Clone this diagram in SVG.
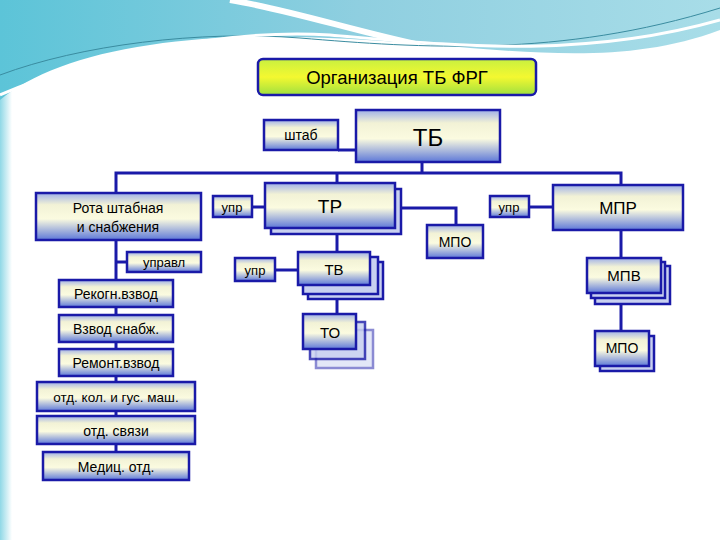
<svg xmlns="http://www.w3.org/2000/svg" width="720" height="540" viewBox="0 0 720 540">
<defs>
<linearGradient id="bx" x1="0" y1="0" x2="0" y2="1">
<stop offset="0" stop-color="#9fb0e8"/><stop offset="0.25" stop-color="#f2f2d6"/><stop offset="0.55" stop-color="#fbfbe0"/><stop offset="1" stop-color="#5d78d8"/>
</linearGradient>
<linearGradient id="tt" x1="0" y1="0" x2="0" y2="1">
<stop offset="0" stop-color="#c8f040"/><stop offset="0.5" stop-color="#f4f830"/><stop offset="1" stop-color="#9fe040"/>
</linearGradient>
<linearGradient id="sky" x1="0" y1="0" x2="1" y2="0">
<stop offset="0" stop-color="#5cc4d8"/><stop offset="0.5" stop-color="#8fcfe0"/><stop offset="1" stop-color="#a8dde8"/>
</linearGradient>
<linearGradient id="lft" x1="0" y1="0" x2="1" y2="0">
<stop offset="0" stop-color="#8fd8e6"/><stop offset="1" stop-color="#ffffff"/>
</linearGradient>
</defs>
<style>
.b{fill:url(#bx);stroke:#1a1aa8;stroke-width:2.5}
.s{fill:#c8d0f0;stroke:#1a1aa8;stroke-width:2.5}
.c{stroke:#1a1aa8;stroke-width:3;fill:none}
text{font-family:"Liberation Sans",Arial,sans-serif;fill:#000;text-anchor:middle}
</style>
<rect width="720" height="540" fill="#fff"/>
<rect x="0" y="0" width="12" height="540" fill="url(#lft)"/>
<path d="M0,0 H720 V30 C640,60 560,55 470,48 C360,38 250,30 150,45 C80,55 30,75 0,100 Z" fill="url(#sky)"/>
<path d="M230,0 C290,10 350,30 420,45" stroke="#fff" stroke-width="6" fill="none"/>
<path d="M0,75 C80,45 200,30 300,38 C420,48 560,58 720,8" stroke="#3a8ca0" stroke-width="1" fill="none"/>
<path d="M0,95 C80,60 220,28 330,35 C450,45 580,60 720,20" stroke="#fff" stroke-width="3" fill="none"/>

<g id="connectors">
<path class="c" d="M116,193 V173 H621 V185"/>
<path class="c" d="M422,162 V173"/>
<path class="c" d="M337,173 V183"/>
<path class="c" d="M338,150 H356"/>
<path class="c" d="M252,207 H265"/>
<path class="c" d="M400,208 H456 V225"/>
<path class="c" d="M529,207 H553"/>
<path class="c" d="M337,233 V252"/>
<path class="c" d="M275,270 H298"/>
<path class="c" d="M337,295 V314"/>
<path class="c" d="M621,230 V258"/>
<path class="c" d="M621,303 V331"/>
<path class="c" d="M116,240 V452"/>
<path class="c" d="M116,262 H127"/>
</g>

<g id="title"><rect x="258" y="59" width="278" height="36" rx="5" fill="url(#tt)" stroke="#1a1aa8" stroke-width="2.5"/><text x="397" y="84" font-size="18.5">Организация ТБ ФРГ</text></g>
<g id="shtab"><rect class="b" x="264" y="120" width="74" height="30"/><text x="301" y="140" font-size="14">штаб</text></g>
<g id="tb"><rect class="b" x="356" y="110" width="144" height="52"/><text x="428" y="146" font-size="24">ТБ</text></g>
<g id="rota"><rect class="b" x="36" y="193" width="165" height="47"/><text x="118" y="213" font-size="14">Рота штабная</text><text x="118" y="232" font-size="14">и снабжения</text></g>
<g id="upr1"><rect class="b" x="213" y="196" width="39" height="21"/><text x="232" y="212" font-size="13">упр</text></g>
<g id="tr"><rect class="s" x="271" y="189" width="130" height="45"/><rect class="b" x="265" y="183" width="130" height="45"/><text x="330" y="213" font-size="19">ТР</text></g>
<g id="mpo1"><rect class="b" x="427" y="225" width="56" height="33"/><text x="455" y="247" font-size="14">МПО</text></g>
<g id="upr2"><rect class="b" x="490" y="196" width="39" height="21"/><text x="509" y="212" font-size="13">упр</text></g>
<g id="mpr"><rect class="b" x="553" y="185" width="130" height="45"/><text x="618" y="214" font-size="17">МПР</text></g>
<g id="upr3"><rect class="b" x="235" y="258" width="40" height="23"/><text x="255" y="275" font-size="13">упр</text></g>
<g id="tv"><rect class="s" x="308" y="262" width="75" height="37"/><rect class="s" x="303" y="257" width="75" height="37"/><rect class="b" x="298" y="252" width="72" height="33"/><text x="334" y="275" font-size="15">ТВ</text></g>
<g id="to"><rect class="s" x="316" y="330" width="57" height="38" opacity="0.5"/><rect class="s" x="310" y="322" width="55" height="37" opacity="0.8"/><rect class="b" x="303" y="314" width="53" height="35"/><text x="330" y="338" font-size="15">ТО</text></g>
<g id="mpv"><rect class="s" x="595" y="266" width="75" height="38"/><rect class="s" x="591" y="262" width="74" height="36"/><rect class="b" x="587" y="258" width="74" height="35"/><text x="624" y="281" font-size="15">МПВ</text></g>
<g id="mpo2"><rect class="s" x="600" y="336" width="54" height="35"/><rect class="b" x="595" y="331" width="54" height="35"/><text x="622" y="353" font-size="14">МПО</text></g>
<g id="upravl"><rect class="b" x="127" y="252" width="74" height="20"/><text x="164" y="267" font-size="13">управл</text></g>
<g id="rekogn"><rect class="b" x="59" y="280" width="114" height="27"/><text x="116" y="299" font-size="14">Рекогн.взвод</text></g>
<g id="snab"><rect class="b" x="59" y="315" width="114" height="27"/><text x="116" y="334" font-size="14">Взвод снабж.</text></g>
<g id="remont"><rect class="b" x="59" y="349" width="114" height="27"/><text x="116" y="368" font-size="14">Ремонт.взвод</text></g>
<g id="kol"><rect class="b" x="37" y="382" width="158" height="29"/><text x="116" y="402" font-size="13.5">отд. кол. и гус. маш.</text></g>
<g id="svyaz"><rect class="b" x="37" y="416" width="158" height="28"/><text x="116" y="436" font-size="14">отд. связи</text></g>
<g id="medic"><rect class="b" x="43" y="452" width="146" height="28"/><text x="116" y="472" font-size="14">Медиц. отд.</text></g>
</svg>
